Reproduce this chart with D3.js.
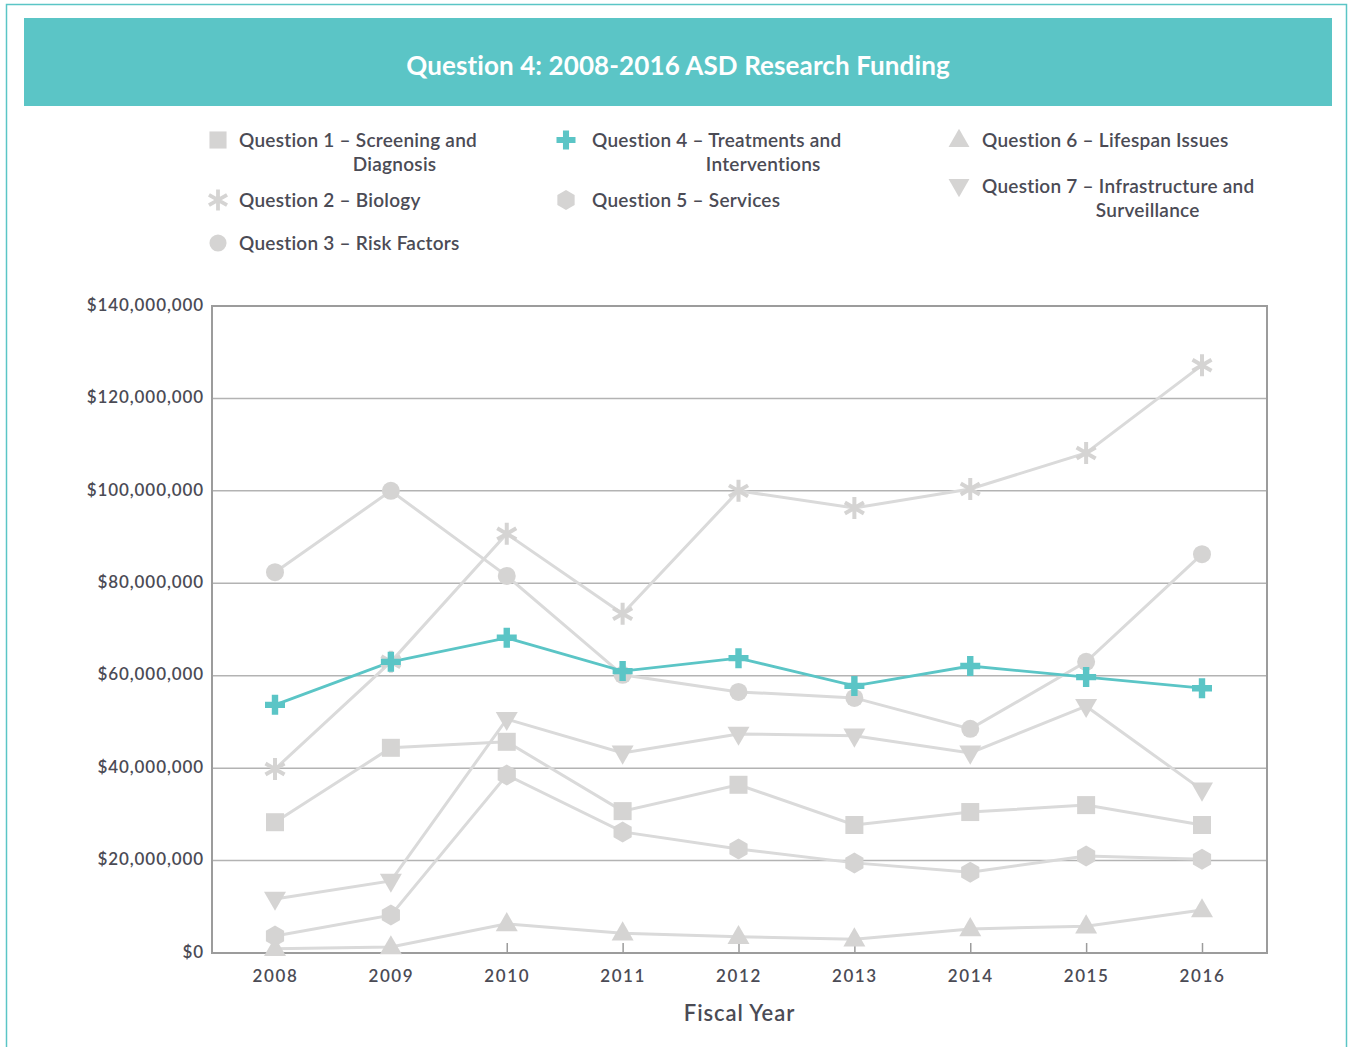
<!DOCTYPE html>
<html><head><meta charset="utf-8">
<script src="https://cdn.jsdelivr.net/npm/d3@7"></script>
<style>
body{margin:0;background:#fff;}
svg{display:block;font-family:Lato,"Open Sans",sans-serif;}
</style></head>
<body><svg id="c" width="1349" height="1047"></svg>
<script>
const years = ["2008","2009","2010","2011","2012","2013","2014","2015","2016"];
const q1 = [28.3e6,44.4e6,45.7e6,30.7e6,36.4e6,27.7e6,30.5e6,32.0e6,27.7e6];
const q2 = [39.8e6,63.0e6,90.7e6,73.4e6,100.0e6,96.3e6,100.4e6,108.2e6,127.2e6];
const q3 = [82.4e6,100.0e6,81.6e6,60.2e6,56.5e6,55.2e6,48.5e6,63.0e6,86.3e6];
const q4 = [53.7e6,63.0e6,68.2e6,61.0e6,63.8e6,57.8e6,62.1e6,59.7e6,57.3e6];
const q5 = [3.7e6,8.2e6,38.5e6,26.2e6,22.5e6,19.5e6,17.5e6,21.0e6,20.3e6];
const q6 = [0.9e6,1.3e6,6.3e6,4.3e6,3.5e6,3.0e6,5.2e6,5.8e6,9.3e6];
const q7 = [11.7e6,15.6e6,50.6e6,43.3e6,47.4e6,47.0e6,43.3e6,53.4e6,35.3e6];
const seriesNames = ["Question 1 – Screening and Diagnosis","Question 2 – Biology","Question 3 – Risk Factors","Question 4 – Treatments and Interventions","Question 5 – Services","Question 6 – Lifespan Issues","Question 7 – Infrastructure and Surveillance"];
const yTicks = [0,20e6,40e6,60e6,80e6,100e6,120e6,140e6];
const title = "Question 4: 2008-2016 ASD Research Funding";
const xTitle = "Fiscal Year";

const TEAL = "#5bc5c6", GRAY = "#d5d4d3", LINEG = "#dadada", TXT = "#4b4b55";
const svg = d3.select("#c");

// page frame
svg.append("rect").attr("x",6.5).attr("y",4.5).attr("width",1340).attr("height",1100)
  .attr("fill","none").attr("stroke",TEAL).attr("stroke-width",1.5);
svg.append("rect").attr("x",24).attr("y",18).attr("width",1308).attr("height",88).attr("fill",TEAL);
svg.append("text").attr("x",678).attr("y",75).attr("text-anchor","middle")
  .attr("fill","#fff").attr("font-size",26).attr("font-weight",700).attr("letter-spacing",0.1).text(title);

const M = {l:212, r:1267, t:306, b:953};
const x = d3.scalePoint().domain(years).range([275,1202]);
const y = d3.scaleLinear().domain([0,140e6]).range([M.b,M.t]);

const g = svg.append("g");
g.selectAll(".grid").data(yTicks).join("line")
  .attr("x1",M.l).attr("x2",M.r).attr("y1",d=>y(d)).attr("y2",d=>y(d))
  .attr("stroke","#b3b3b3").attr("stroke-width",1.5);
g.append("rect").attr("x",M.l).attr("y",M.t).attr("width",M.r-M.l).attr("height",M.b-M.t)
  .attr("fill","none").attr("stroke","#9c9c9c").attr("stroke-width",2);

const yAxis = d3.axisLeft(y).tickValues(yTicks).tickSize(0).tickPadding(8)
  .tickFormat(d=>"$"+d3.format(",")(d));
const ya = svg.append("g").attr("transform",`translate(${M.l},0)`).call(yAxis);
ya.select(".domain").remove();
ya.selectAll("text").attr("font-size",17).attr("font-weight",600).attr("fill",TXT)
  .attr("font-family","Lato").attr("letter-spacing",0.9).attr("dy","0.25em");

const xAxis = d3.axisBottom(x).tickSizeInner(-10).tickSizeOuter(0).tickPadding(17);
const xa = svg.append("g").attr("transform",`translate(0,${M.b})`).call(xAxis);
xa.select(".domain").remove();
xa.selectAll(".tick line").attr("stroke","#9c9c9c").attr("stroke-width",1.5);
xa.selectAll("text").attr("font-size",17).attr("font-weight",600).attr("fill",TXT)
  .attr("font-family","Lato").attr("letter-spacing",1.6);

svg.append("text").attr("x",(M.l+M.r)/2).attr("y",1021).attr("text-anchor","middle")
  .attr("font-size",22).attr("font-weight",600).attr("fill",TXT).attr("letter-spacing",0.9).text(xTitle);

function hexPath(r){ let p=[]; for(let i=0;i<6;i++){const a=Math.PI/2+i*Math.PI/3; p.push([r*Math.cos(a),r*Math.sin(a)]);} return "M"+p.map(q=>q.join(",")).join("L")+"Z"; }
function plusPath(s,w){ return `M${-w},${-s}H${w}V${-w}H${s}V${w}H${w}V${s}H${-w}V${w}H${-s}V${-w}H${-w}Z`; }
function triPath(s,up){ const h=s*0.87; return up?`M0,${-h*0.62}L${s/2},${h*0.38}L${-s/2},${h*0.38}Z`:`M0,${h*0.62}L${s/2},${-h*0.38}L${-s/2},${-h*0.38}Z`; }
function astPath(r){ let d=""; for(let i=0;i<3;i++){const a=Math.PI/2+i*Math.PI/3; const cx=r*Math.cos(a), cy=r*Math.sin(a); d+=`M${cx},${cy}L${-cx},${-cy}`;} return d; }

const markers = ["square","ast","circle","plus","hex","up","down"];
function drawMarker(sel, kind, color, scale=1){
  if(kind==="square") sel.append("rect").attr("x",-9*scale).attr("y",-9*scale).attr("width",18*scale).attr("height",18*scale).attr("fill",color);
  else if(kind==="circle") sel.append("circle").attr("r",9*scale).attr("fill",color);
  else if(kind==="hex") sel.append("path").attr("d",hexPath(10.5*scale)).attr("fill",color);
  else if(kind==="plus") sel.append("path").attr("d",plusPath(10*scale,3.2*scale)).attr("fill",color);
  else if(kind==="up") sel.append("path").attr("d",triPath(22*scale,true)).attr("fill",color);
  else if(kind==="down") sel.append("path").attr("d",triPath(22*scale,false)).attr("fill",color);
  else if(kind==="ast") sel.append("path").attr("d",astPath(11*scale)).attr("stroke",color).attr("stroke-width",4*scale).attr("fill","none");
}

const data = [q1,q2,q3,q4,q5,q6,q7];
const line = d3.line().x((d,i)=>x(years[i])).y(d=>y(d));
const order = [5,4,6,0,2,1,3];
order.forEach(si=>{
  svg.append("path").attr("d",line(data[si])).attr("fill","none")
    .attr("stroke",si===3?TEAL:LINEG).attr("stroke-width",si===3?2.8:3);
});
order.forEach(si=>{
  const color = si===3?TEAL:GRAY;
  data[si].forEach((v,i)=>{
    const mg = svg.append("g").attr("transform",`translate(${x(years[i])},${y(v)})`);
    drawMarker(mg, markers[si], color);
  });
});

// legend
const legPos = [
  {mx:218,tx:239,y:140},{mx:218,tx:239,y:200},{mx:218,tx:239,y:243},
  {mx:566,tx:592,y:140},{mx:566,tx:592,y:200},
  {mx:959,tx:982,y:140},{mx:959,tx:982,y:186}
];
const wraps = {0:["Question 1 – Screening and","Diagnosis"],3:["Question 4 – Treatments and","Interventions"],6:["Question 7 – Infrastructure and","Surveillance"]};
const prefixes = {0:"Question 1 – ",3:"Question 4 – ",6:"Question 7 – "};
const LS = 0.25;
seriesNames.forEach((name,si)=>{
  const p = legPos[si];
  const mg = svg.append("g").attr("transform",`translate(${p.mx},${p.y})`);
  drawMarker(mg, markers[si], si===3?TEAL:GRAY, 0.95);
  const t = svg.append("text").attr("x",p.tx).attr("y",p.y+7).attr("font-size",19).attr("font-weight",600)
    .attr("letter-spacing",LS).attr("fill",TXT);
  if(wraps[si]){
    t.text(wraps[si][0]);
    const tmp = svg.append("text").attr("font-size",19).attr("font-weight",600).attr("letter-spacing",LS)
      .style("white-space","pre").text(prefixes[si]);
    const w = tmp.node().getComputedTextLength(); tmp.remove();
    svg.append("text").attr("x",p.tx+w-3).attr("y",p.y+31).attr("font-size",19).attr("font-weight",600)
      .attr("letter-spacing",LS).attr("fill",TXT).text(wraps[si][1]);
  } else t.text(name);
});
</script></body></html>
